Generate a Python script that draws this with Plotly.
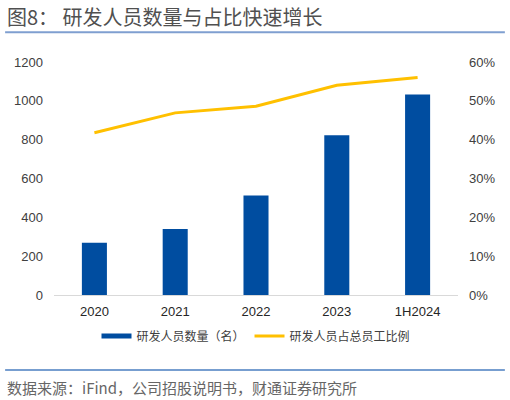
import plotly.graph_objects as go

categories = ["2020", "2021", "2022", "2023", "1H2024"]
rd_staff = [269, 340, 513, 823, 1032]
rd_ratio = [0.418, 0.469, 0.486, 0.540, 0.560]
left_ticks = [0, 200, 400, 600, 800, 1000, 1200]
right_ticks = [0, 0.1, 0.2, 0.3, 0.4, 0.5, 0.6]

BLUE = "#004DA0"
GOLD = "#FFC000"
FONT = "Liberation Sans, Arial, Noto Sans CJK SC"
CJK = "Noto Sans CJK SC, Liberation Sans"

fig = go.Figure()
fig.add_trace(go.Bar(x=categories, y=rd_staff, marker=dict(color=BLUE, line=dict(width=0)),
                     name="研发人员数量（名）", showlegend=False, yaxis="y"))
fig.add_trace(go.Scatter(x=categories, y=rd_ratio, mode="lines", line=dict(color=GOLD, width=3),
                         name="研发人员占总员工比例", showlegend=False, yaxis="y2"))
# legend entries
fig.add_trace(go.Scatter(x=[None], y=[None], mode="lines", line=dict(color=BLUE, width=5),
                         name="研发人员数量（名）", yaxis="y"))
fig.add_trace(go.Scatter(x=[None], y=[None], mode="lines", line=dict(color=GOLD, width=3),
                         name="研发人员占总员工比例", yaxis="y2"))

fig.update_layout(
    width=510, height=400,
    margin=dict(l=54, r=52, t=62, b=105),
    paper_bgcolor="white", plot_bgcolor="white",
    bargap=0.69,
    font=dict(family=FONT, size=13, color="#404040"),
    xaxis=dict(type="category", showgrid=False, showline=True, linecolor="#D9D9D9", linewidth=1,
               ticks="", ticklabelstandoff=4, tickfont=dict(size=13, color="#262626")),
    yaxis=dict(range=[0, 1200], tickvals=left_ticks, showgrid=False, zeroline=False,
               showline=False, ticks="", ticklabelstandoff=10, tickfont=dict(size=13, color="#404040")),
    yaxis2=dict(range=[0, 0.6], tickvals=right_ticks, tickformat=".0%", overlaying="y", side="right",
                showgrid=False, zeroline=False, showline=False, ticks="", ticklabelstandoff=10,
                tickfont=dict(size=13, color="#404040")),
    legend=dict(orientation="h", x=0.5, xanchor="center", y=-0.176, yanchor="middle",
                font=dict(family=CJK, size=12, color="#404040"), itemwidth=30,
                bgcolor="rgba(0,0,0,0)"),
    shapes=[
        dict(type="line", xref="paper", yref="paper", x0=-0.121, x1=1.116,
             y0=(295 - 32) / 233.3, y1=(295 - 32) / 233.3, line=dict(color="#7F9FD0", width=2)),
        dict(type="line", xref="paper", yref="paper", x0=-0.121, x1=1.116,
             y0=(295 - 370) / 233.3, y1=(295 - 370) / 233.3, line=dict(color="#4A7EC0", width=1.5)),
    ],
    annotations=[
        dict(text="图8： 研发人员数量与占比快速增长", xref="paper", yref="paper",
             x=(6 - 54) / 404, y=(295 - 16) / 233.3, xanchor="left", yanchor="middle",
             borderpad=0, showarrow=False, font=dict(family=CJK, size=20, color="#505050")),
        dict(text="数据来源：iFind，公司招股说明书，财通证券研究所", xref="paper", yref="paper",
             x=(5 - 54) / 404, y=(295 - 388) / 233.3, xanchor="left", yanchor="middle",
             showarrow=False, font=dict(family=CJK, size=15, color="#666666")),
    ],
)

fig.write_html("out.html", config={"displayModeBar": False},
               post_script="document.body.style.margin='0';")
